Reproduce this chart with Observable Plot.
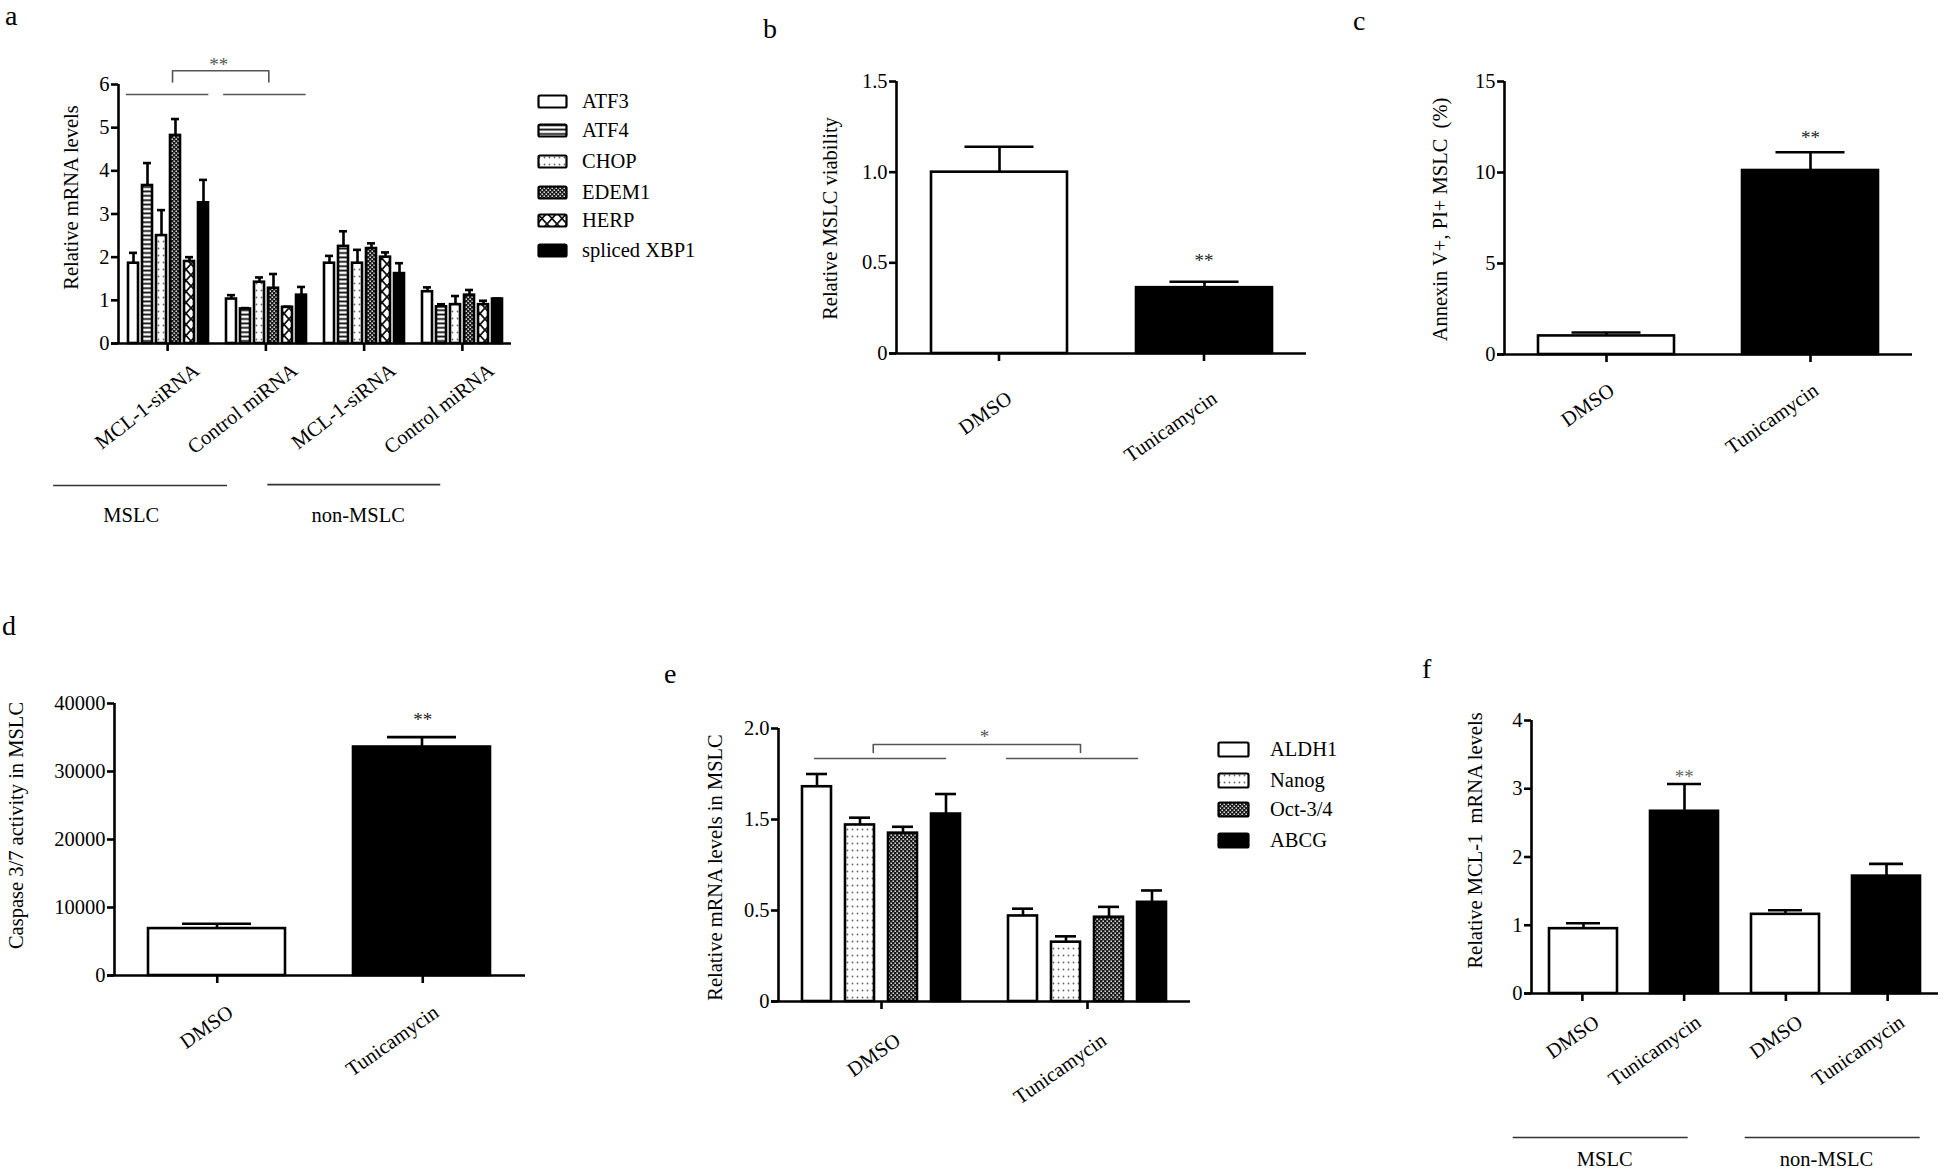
<!DOCTYPE html>
<html><head><meta charset="utf-8">
<script src="https://cdn.jsdelivr.net/npm/d3@7"></script>
<script src="https://cdn.jsdelivr.net/npm/@observablehq/plot@0.6"></script>
<style>
html,body{margin:0;padding:0;background:#fff;}
#fig{position:relative;width:1946px;height:1172px;overflow:hidden;font-family:"Liberation Serif","Times New Roman",serif;color:#000;background:#fff;}
.panel{position:absolute;}
.panel svg{max-width:none;}
.letter{position:absolute;font-size:28px;line-height:normal;}
.lrow{position:absolute;display:flex;align-items:center;white-space:nowrap;font-size:20.5px;height:24px;}
</style></head><body>
<svg width="0" height="0" style="position:absolute">
<defs>
 <pattern id="pHLines" patternUnits="userSpaceOnUse" width="6" height="4.4"><rect width="6" height="4.4" fill="#fff"/><rect y="1.3" width="6" height="1.8" fill="#111"/></pattern>
 <pattern id="pDots" patternUnits="userSpaceOnUse" width="5" height="7"><rect width="5" height="7" fill="#fff"/><circle cx="2.5" cy="3.5" r="0.9" fill="#666"/></pattern>
 <pattern id="pCheck" patternUnits="userSpaceOnUse" width="4" height="4"><rect width="4" height="4" fill="#1a1a1a"/><rect x="0.5" y="0.5" width="1.4" height="1.4" fill="#fff"/><rect x="2.5" y="2.5" width="1.4" height="1.4" fill="#fff"/></pattern>
 <pattern id="pCross" patternUnits="userSpaceOnUse" width="10" height="11"><rect width="10" height="11" fill="#fff"/><path d="M0,0L10,11M10,0L0,11" stroke="#111" stroke-width="1.8"/></pattern>
</defs></svg>
<div id="fig"></div>
<script>
// ---------------- DATA ----------------
// Panel a
const aGroups = ["MCL-1-siRNA", "Control miRNA", "MCL-1-siRNA", "Control miRNA"];
const aCells = ["MSLC", "non-MSLC"];
const aGenes = ["ATF3", "ATF4", "CHOP", "EDEM1", "HERP", "spliced XBP1"];
const aMeans = [
  [1.86, 3.66, 2.50, 4.82, 1.90, 3.26],
  [1.03, 0.80, 1.42, 1.28, 0.84, 1.12],
  [1.86, 2.25, 1.86, 2.20, 2.00, 1.62],
  [1.20, 0.85, 0.90, 1.12, 0.90, 1.03]
];
const aErrors = [
  [0.24, 0.52, 0.59, 0.38, 0.10, 0.53],
  [0.09, 0.02, 0.11, 0.33, 0.01, 0.19],
  [0.17, 0.35, 0.31, 0.12, 0.11, 0.24],
  [0.10, 0.06, 0.20, 0.12, 0.09, 0.01]
];
const aTicks = [0, 1, 2, 3, 4, 5, 6];
// Panel b
const bGroups = ["DMSO", "Tunicamycin"];
const bMeans = [1.00, 0.363];
const bErrors = [0.14, 0.033];
const bTicks = [0, 0.5, 1.0, 1.5];
// Panel c
const cGroups = ["DMSO", "Tunicamycin"];
const cMeans = [1.02, 10.11];
const cErrors = [0.19, 1.0];
const cTicks = [0, 5, 10, 15];
// Panel d
const dGroups = ["DMSO", "Tunicamycin"];
const dMeans = [6900, 33600];
const dErrors = [700, 1450];
const dTicks = [0, 10000, 20000, 30000, 40000];
// Panel e
const eGroups = ["DMSO", "Tunicamycin"];
const eGenes = ["ALDH1", "Nanog", "Oct-3/4", "ABCG"];
const eMeans = [[1.68, 1.44, 1.35, 1.53], [0.47, 0.326, 0.463, 0.59]];
const eErrors = [[0.07, 0.07, 0.07, 0.11], [0.05, 0.032, 0.077, 0.13]];
const eTicks = [0, 0.5, 1.5, 2.0];
// Panel f
const fGroups = ["DMSO", "Tunicamycin", "DMSO", "Tunicamycin"];
const fCells = ["MSLC", "non-MSLC"];
const fMeans = [0.95, 2.67, 1.16, 1.72];
const fErrors = [0.08, 0.40, 0.06, 0.18];
const fTicks = [0, 1, 2, 3, 4];

// significance annotations (data units; x in group index units)
const aSig = {lines: [{x1: -0.42, x2: 0.42, y: 5.77}, {x1: 0.57, x2: 1.41, y: 5.77}], x1: 0.05, x2: 1.03, top: 6.32, leg: 6.06, sx: 0.52, star: "**"};
const eSig = {lines: [{x1: -0.325, x2: 0.316, y: 1.835}, {x1: 0.607, x2: 1.248, y: 1.835}], x1: -0.04, x2: 0.966, top: 1.912, leg: 1.868, sx: 0.5, star: "*"};
const aCellSpans = [{label: aCells[0], x1: -1.16, x2: 0.61, y: -3.29, tx: -0.37, ty: -3.98}, {label: aCells[1], x1: 1.02, x2: 2.78, y: -3.27, tx: 1.94, ty: -3.98}];
const fCellSpans = [{label: fCells[0], x1: -0.68, x2: 1.04, y: -2.11, tx: 0.22, ty: -2.43}, {label: fCells[1], x1: 1.60, x2: 3.32, y: -2.11, tx: 2.40, ty: -2.43}];

// ---------------- RENDER ----------------
const FONT = '"Liberation Serif", "Times New Roman", serif';
const SW = 2.6;
const fig = document.getElementById("fig");

function place(node, left, top, w, h) {
  const d = document.createElement("div");
  d.className = "panel";
  d.style.left = left + "px"; d.style.top = top + "px";
  if (w) d.style.width = w + "px";
  if (h) d.style.height = h + "px";
  d.appendChild(node);
  fig.appendChild(d);
  return d;
}

const fmt1 = d => d === 0 ? "0" : d.toFixed(1);
const fmtInt = d => String(d);

function renderPanel(p) {
  const box = p.box, fr = p.frame;
  const mL = fr.left - box.left, mR = box.left + box.width - fr.right;
  const mT = fr.top - box.top, mB = box.top + box.height - fr.bottom;
  const n = p.groups.length;
  const t = p.yTicks, last = t[t.length - 1];
  const innerH = box.height - mT - mB;
  const yOpt = p.piecewise
    ? {type: "linear", domain: t, range: t.map((_, i) => box.height - mB - i * innerH / (t.length - 1))}
    : {type: "linear", domain: [t[0], last], range: [box.height - mB, mT]};
  const common = {
    width: box.width, height: box.height,
    marginLeft: mL, marginRight: mR, marginTop: mT, marginBottom: mB,
    style: {fontFamily: FONT, fontSize: "20.5px", background: "none", overflow: "visible", color: "#000"}
  };
  let main;
  if (p.series) {
    const rows = p.groups.flatMap((g, i) => p.series.map((s, j) => ({key: i, j, series: s, mean: p.means[i][j], err: p.errors[i][j]})));
    main = Plot.plot({
      ...common,
      fx: {domain: d3.range(n), padding: 0, axis: null},
      x: {domain: p.series, paddingInner: p.pi, paddingOuter: p.po, axis: null},
      y: {...yOpt, axis: null},
      marks: [
        ...p.series.map((s, j) => Plot.barY(rows.filter(r => r.j === j), {fx: "key", x: "series", y: "mean", fill: p.fills[j], stroke: "#000", strokeWidth: SW})),
        Plot.ruleX(rows, {fx: "key", x: "series", y1: "mean", y2: r => r.mean + r.err, stroke: "#000", strokeWidth: SW}),
        Plot.tickY(rows, {fx: "key", x: "series", y: r => r.mean + r.err, insetLeft: p.capInset, insetRight: p.capInset, stroke: "#000", strokeWidth: SW})
      ]
    });
  } else {
    const rows = p.groups.map((g, i) => ({key: i, mean: p.means[i], err: p.errors[i]}));
    main = Plot.plot({
      ...common,
      x: {domain: d3.range(n), paddingInner: p.pi, paddingOuter: p.pi / 2, axis: null},
      y: {...yOpt, axis: null},
      marks: [
        ...rows.map((r, i) => Plot.barY([r], {x: "key", y: "mean", fill: p.fills[i], stroke: "#000", strokeWidth: SW})),
        Plot.ruleX(rows, {x: "key", y1: "mean", y2: r => r.mean + r.err, stroke: "#000", strokeWidth: SW}),
        Plot.tickY(rows, {x: "key", y: r => r.mean + r.err, insetLeft: p.capInset, insetRight: p.capInset, stroke: "#000", strokeWidth: SW})
      ]
    });
  }
  const marks = [
    Plot.ruleX([-0.5], {y1: t[0], y2: last, stroke: "#000", strokeWidth: SW}),
    Plot.ruleY([t[0]], {x1: -0.5, x2: n - 0.5, insetLeft: -7, stroke: "#000", strokeWidth: SW}),
    Plot.axisY({ticks: t, tickFormat: p.fmt, tickSize: 7, tickPadding: 2, strokeWidth: SW, label: null}),
    Plot.axisX({ticks: d3.range(n), tickSize: 8, tickFormat: () => "", strokeWidth: SW, label: null}),
    Plot.text(p.groups, {x: (d, i) => i, text: d => d, frameAnchor: "bottom", rotate: p.rot, textAnchor: "end", lineAnchor: "top", dx: p.ldx, dy: p.ldy}),
    Plot.text([p.title], {text: d => d, frameAnchor: "left", rotate: -90, textAnchor: "middle", lineAnchor: "middle", dx: p.tdx, dy: p.tdy})
  ];
  if (p.sig) {
    const s = p.sig, G = "#555";
    marks.push(Plot.ruleY(s.lines, {y: "y", x1: "x1", x2: "x2", stroke: G, strokeWidth: 1.6}));
    marks.push(Plot.line([[s.x1, s.leg], [s.x1, s.top], [s.x2, s.top], [s.x2, s.leg]], {stroke: G, strokeWidth: 1.6}));
    marks.push(Plot.text([s], {x: "sx", y: "top", text: "star", dy: p.sigDy, lineAnchor: "bottom", fill: G, fontSize: 19}));
  }
  if (p.star) {
    marks.push(Plot.text([p.star], {x: "i", y: d => p.means[d.i] + p.errors[d.i], text: "text", dy: p.star.dy, lineAnchor: "bottom", fill: p.star.color, fontSize: 19}));
  }
  if (p.cells) {
    marks.push(Plot.ruleY(p.cells, {y: "y", x1: "x1", x2: "x2", stroke: "#333", strokeWidth: 1.6}));
    marks.push(Plot.text(p.cells, {x: "tx", y: "ty", text: "label", lineAnchor: "middle"}));
  }
  const over = Plot.plot({...common, x: {type: "linear", domain: [-0.5, n - 0.5]}, y: {...yOpt}, marks});
  place(main, box.left, box.top, box.width, box.height);
  place(over, box.left, box.top, box.width, box.height);
}

const aFills = ["#fff", "url(#pHLines)", "url(#pDots)", "url(#pCheck)", "url(#pCross)", "#000"];
const eFills = ["#fff", "url(#pDots)", "url(#pCheck)", "#000"];

renderPanel({
  box: {left: 0, top: 0, width: 530, height: 560}, frame: {left: 118, right: 511, top: 84, bottom: 343},
  groups: aGroups, series: aGenes, means: aMeans, errors: aErrors, fills: aFills,
  yTicks: aTicks, fmt: fmtInt, pi: 0.315, po: 0.52, capInset: 1,
  rot: -38, ldx: 24, ldy: 18, title: "Relative mRNA levels", tdx: -47, tdy: -16.5,
  sig: aSig, sigDy: 0, cells: aCellSpans
});
renderPanel({
  box: {left: 760, top: 0, width: 580, height: 520}, frame: {left: 896, right: 1306, top: 81, bottom: 353},
  groups: bGroups, means: bMeans, errors: bErrors, fills: ["#fff", "#000"],
  yTicks: bTicks, fmt: fmt1, pi: 0.337, capInset: 33.5,
  rot: -35, ldx: 6, ldy: 36, title: "Relative MSLC viability", tdx: -66, tdy: 1,
  star: {i: 1, text: "**", dy: -15, color: "#222"}
});
renderPanel({
  box: {left: 1380, top: 0, width: 566, height: 520}, frame: {left: 1504, right: 1912, top: 81, bottom: 354},
  groups: cGroups, means: cMeans, errors: cErrors, fills: ["#fff", "#000"],
  yTicks: cTicks, fmt: fmtInt, pi: 0.333, capInset: 33.5,
  rot: -35, ldx: 1, ldy: 27, title: "Annexin V+, PI+ MSLC  (%)", tdx: -64, tdy: 1.5,
  star: {i: 1, text: "**", dy: -8, color: "#222"}
});
renderPanel({
  box: {left: 0, top: 560, width: 560, height: 612}, frame: {left: 114, right: 525, top: 703, bottom: 975},
  groups: dGroups, means: dMeans, errors: dErrors, fills: ["#fff", "#000"],
  yTicks: dTicks, fmt: fmtInt, pi: 0.33, capInset: 34,
  rot: -35, ldx: 9, ldy: 28, title: "Caspase 3/7 activity in MSLC", tdx: -98, tdy: -14,
  star: {i: 1, text: "**", dy: -11, color: "#222"}
});
renderPanel({
  box: {left: 680, top: 560, width: 530, height: 612}, frame: {left: 778, right: 1190, top: 728, bottom: 1001},
  groups: eGroups, series: eGenes, means: eMeans, errors: eErrors, fills: eFills,
  yTicks: eTicks, piecewise: true, fmt: fmt1, pi: 0.318, po: 0.5, capInset: 4,
  rot: -35, ldx: 12, ldy: 30, title: "Relative mRNA levels in MSLC", tdx: -63, tdy: 2.5,
  sig: eSig, sigDy: -2
});
renderPanel({
  box: {left: 1400, top: 560, width: 546, height: 612}, frame: {left: 1531, right: 1938, top: 720, bottom: 993},
  groups: fGroups, means: fMeans, errors: fErrors, fills: ["#fff", "#000", "#fff", "#000"],
  yTicks: fTicks, fmt: fmtInt, pi: 0.322, capInset: 17,
  rot: -35, ldx: 10, ldy: 20, title: "Relative MCL-1  mRNA levels", tdx: -56, tdy: -16.5,
  star: {i: 1, text: "**", dy: -1, color: "#666"}, cells: fCellSpans
});

// legends
function legend(items, fills, left, centers, sw, sh, textLeft) {
  items.forEach((name, i) => {
    const row = document.createElement("div");
    row.className = "lrow";
    row.style.left = left + "px";
    row.style.top = (centers[i] - 12) + "px";
    row.innerHTML = `<svg width="${sw + 3}" height="${sh + 3}" style="display:block"><rect x="1.5" y="1.5" width="${sw}" height="${sh}" rx="1.5" fill="${fills[i]}" stroke="#000" stroke-width="2.2"/></svg>`;
    const span = document.createElement("span");
    span.textContent = name;
    span.style.marginLeft = (textLeft - left - sw - 3) + "px";
    row.appendChild(span);
    fig.appendChild(row);
  });
}
legend(aGenes, aFills, 537, [101, 130, 161, 192, 220, 250], 28, 12, 582);
legend(eGenes, eFills, 1217, [749, 780, 809, 840], 30, 14, 1270);

// panel letters (line-height normal: baseline ~ top + 25)
[["a", 5, 0], ["b", 763, 13], ["c", 1353, 5], ["d", 2, 610], ["e", 664, 658], ["f", 1422, 653]].forEach(([l, x, y]) => {
  const d = document.createElement("div");
  d.className = "letter";
  d.textContent = l;
  d.style.left = x + "px"; d.style.top = y + "px";
  fig.appendChild(d);
});
</script>
</body></html>
